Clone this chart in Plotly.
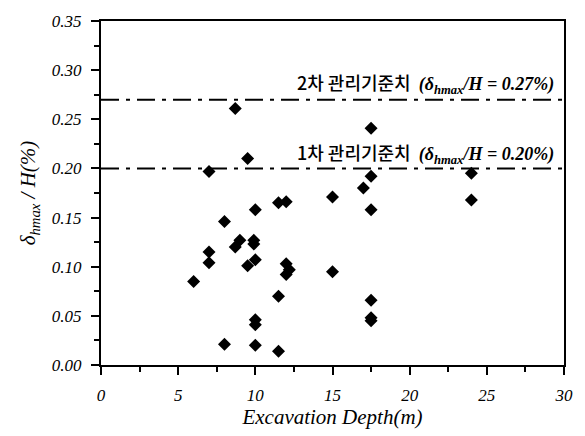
import plotly.graph_objects as go

# Excavation depth (m) and normalized max horizontal wall displacement (%)
depth = [8.7, 9.5, 7.0, 17.5, 17.5, 24.0, 17.0, 15.0, 24.0, 11.5, 12.0, 10.0, 17.5,
         8.0, 9.0, 8.7, 9.9, 9.9, 7.0, 7.0, 10.0, 9.5, 12.0, 12.2, 12.0, 15.0,
         6.0, 11.5, 17.5, 17.5, 17.5, 10.0, 10.0, 8.0, 10.0, 11.5]
ratio = [0.261, 0.210, 0.197, 0.241, 0.192, 0.195, 0.180, 0.171, 0.168, 0.165, 0.166, 0.158, 0.158,
         0.146, 0.127, 0.120, 0.127, 0.123, 0.115, 0.104, 0.107, 0.101, 0.103, 0.097, 0.092, 0.095,
         0.085, 0.070, 0.066, 0.048, 0.045, 0.046, 0.041, 0.021, 0.020, 0.014]

# Management criteria levels
limit_levels = [0.27, 0.20]
limit_labels = ["2차 관리기준치", "1차 관리기준치"]
limit_texts = ["0.27%", "0.20%"]
label_y = [0.287, 0.216]

x_range = [0, 30]
y_range = [0, 0.35]

serif = "Liberation Serif"
korean = "Noto Sans CJK KR"

fig = go.Figure()

for lv in limit_levels:
    fig.add_trace(go.Scatter(
        x=x_range, y=[lv, lv], mode="lines",
        line=dict(color="black", width=2, dash="18px,7px,4px,7px"),
        hoverinfo="skip", showlegend=False,
    ))

fig.add_trace(go.Scatter(
    x=depth, y=ratio, mode="markers",
    marker=dict(symbol="diamond", size=10, color="black"),
    showlegend=False,
))

for lab, txt, yy in zip(limit_labels, limit_texts, label_y):
    fig.add_annotation(
        x=29.5, y=yy, xref="x", yref="y", xanchor="right", yanchor="middle",
        showarrow=False,
        text=(f"{lab}  <span style='font-family:{serif};font-size:18px'><b><i>"
              f"(δ<sub>hmax</sub>/H = {txt})</i></b></span>"),
        font=dict(family=korean, size=18, color="black", weight=500),
    )

axis_common = dict(
    showline=True, linecolor="black", linewidth=2, mirror=True,
    ticks="outside", tickcolor="black", tickwidth=2, ticklen=8,
    showgrid=False, zeroline=False,
    tickfont=dict(family=serif, size=17, color="black", style="italic"),
)

fig.update_xaxes(
    range=x_range, dtick=5, tick0=0, ticklabelstandoff=6,
    minor=dict(dtick=2.5, ticks="outside", ticklen=5, tickwidth=1.5, tickcolor="black"),
    title=dict(text="Excavation Depth(m)", standoff=4,
               font=dict(family=serif, size=21, color="black", style="italic")),
    **axis_common,
)
fig.update_yaxes(
    range=y_range, dtick=0.05, tick0=0, tickformat=".2f", ticklabelstandoff=6,
    minor=dict(dtick=0.025, ticks="outside", ticklen=5, tickwidth=1.5, tickcolor="black"),
    title=dict(text="<i>δ<sub>hmax</sub> / H(%)</i>", standoff=10,
               font=dict(family=serif, size=21, color="black")),
    **axis_common,
)

fig.update_layout(
    width=585, height=436,
    margin=dict(l=101, r=19, t=17, b=71),
    paper_bgcolor="white", plot_bgcolor="white",
)

fig.write_html("out.html")
